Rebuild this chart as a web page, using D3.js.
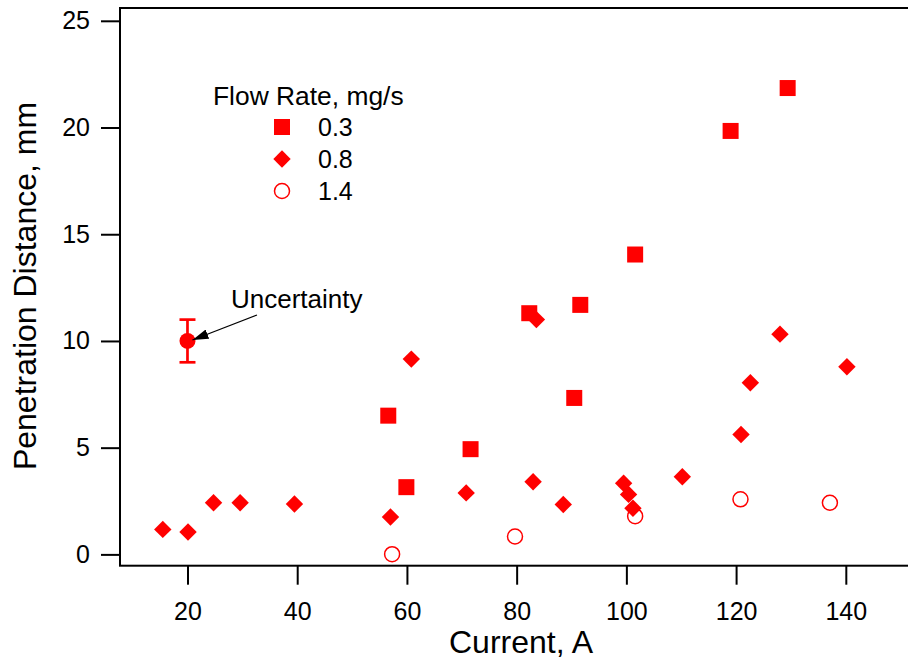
<!DOCTYPE html>
<html>
<head>
<meta charset="utf-8">
<script src="https://cdn.jsdelivr.net/npm/d3@7"></script>
<style>
  body { margin: 0; background: #fff; }
  text { font-family: "Liberation Sans", Arial, Helvetica, sans-serif; fill: #000; }
</style>
</head>
<body>
<svg id="chart" width="908" height="663"></svg>
<script>
// flow rate 0.3 mg/s
var current03 = [56.6, 59.9, 71.6, 82.3, 90.5, 91.6, 101.6, 119.0, 129.4];
var depth03   = [6.5, 3.15, 4.93, 11.3, 7.33, 11.69, 14.05, 19.84, 21.85];
// flow rate 0.8 mg/s
var current08 = [15.5, 20.1, 24.75, 29.6, 39.5, 57.0, 60.8, 70.8, 83.0, 83.6, 88.5, 99.5, 100.4, 101.2, 110.2, 120.9, 122.6, 128.0, 140.2];
var depth08   = [1.17, 1.05, 2.42, 2.42, 2.36, 1.75, 9.15, 2.88, 3.4, 11.0, 2.34, 3.33, 2.81, 2.16, 3.64, 5.62, 8.04, 10.32, 8.79];
// flow rate 1.4 mg/s
var current14 = [57.3, 79.7, 101.6, 120.8, 137.1];
var depth14   = [0.01, 0.84, 1.79, 2.58, 2.42];
// uncertainty sample point
var uncPoint = [20, 10];
var uncRange = [9, 11];

var xTicks = [20, 40, 60, 80, 100, 120, 140];
var yTicks = [0, 5, 10, 15, 20, 25];
var legendLabels = ["0.3", "0.8", "1.4"];

var svg = d3.select("#chart");
var red = "#ff0000";

var x = d3.scaleLinear().domain([7.7, 151.7]).range([120, 910]);
var y = d3.scaleLinear().domain([-0.53, 25.6]).range([565.7, 8]);

// frame
svg.append("rect")
    .attr("x", x.range()[0]).attr("y", y.range()[1])
    .attr("width", x.range()[1] - x.range()[0])
    .attr("height", y.range()[0] - y.range()[1])
    .attr("fill", "none").attr("stroke", "#000").attr("stroke-width", 2);

var xAxis = svg.append("g")
    .attr("transform", "translate(0," + y.range()[0] + ")")
    .call(d3.axisBottom(x).tickValues(xTicks).tickSize(19).tickPadding(18).tickSizeOuter(0));
var yAxis = svg.append("g")
    .attr("transform", "translate(" + x.range()[0] + ",0)")
    .call(d3.axisLeft(y).tickValues(yTicks).tickSize(19).tickPadding(11).tickSizeOuter(0));

[xAxis, yAxis].forEach(function(a){
    a.select(".domain").remove();
    a.selectAll(".tick line").attr("stroke", "#000").attr("stroke-width", 2);
    a.selectAll(".tick text").style("font-size", "25px").attr("fill", "#000");
});

// axis titles
svg.append("text")
    .attr("x", 521).attr("y", 653)
    .attr("text-anchor", "middle")
    .style("font-size", "32px")
    .text("Current, A");
svg.append("text")
    .attr("transform", "translate(36,286) rotate(-90)")
    .attr("text-anchor", "middle")
    .style("font-size", "32px")
    .text("Penetration Distance, mm");

var sq = 16, dia = 8.7, rad = 7.5;

function square(g){ g.attr("width", sq).attr("height", sq).attr("fill", red); }
function diamond(cx, cy){
    return [[cx, cy - dia], [cx + dia, cy], [cx, cy + dia], [cx - dia, cy]].map(function(p){ return p.join(","); }).join(" ");
}

// 1.4 circles
svg.append("g").selectAll("circle")
    .data(d3.zip(current14, depth14))
    .join("circle")
    .attr("cx", d => x(d[0])).attr("cy", d => y(d[1])).attr("r", rad)
    .attr("fill", "none").attr("stroke", red).attr("stroke-width", 1.5);

// 0.8 diamonds
svg.append("g").selectAll("polygon")
    .data(d3.zip(current08, depth08))
    .join("polygon")
    .attr("points", d => diamond(x(d[0]), y(d[1])))
    .attr("fill", red);

// 0.3 squares
svg.append("g").selectAll("rect")
    .data(d3.zip(current03, depth03))
    .join("rect")
    .attr("x", d => x(d[0]) - sq / 2).attr("y", d => y(d[1]) - sq / 2)
    .call(square);

// uncertainty marker
var ux = x(uncPoint[0]);
var eb = svg.append("g").attr("stroke", red).attr("stroke-width", 2.7);
eb.append("line").attr("x1", ux).attr("x2", ux).attr("y1", y(uncRange[0])).attr("y2", y(uncRange[1]));
eb.append("line").attr("x1", ux - 8).attr("x2", ux + 8).attr("y1", y(uncRange[0])).attr("y2", y(uncRange[0]));
eb.append("line").attr("x1", ux - 8).attr("x2", ux + 8).attr("y1", y(uncRange[1])).attr("y2", y(uncRange[1]));
svg.append("circle").attr("cx", ux).attr("cy", y(uncPoint[1])).attr("r", 8).attr("fill", red);

// annotation arrow
svg.append("defs").append("marker")
    .attr("id", "arrow").attr("viewBox", "0 0 16 10")
    .attr("refX", 16).attr("refY", 5)
    .attr("markerWidth", 16).attr("markerHeight", 10)
    .attr("markerUnits", "userSpaceOnUse")
    .attr("orient", "auto")
    .append("path").attr("d", "M0,0 L16,5 L0,10 Z").attr("fill", "#000");
svg.append("line")
    .attr("x1", 257).attr("y1", 315)
    .attr("x2", ux + 5).attr("y2", y(uncPoint[1]) - 1)
    .attr("stroke", "#000").attr("stroke-width", 1.2)
    .attr("marker-end", "url(#arrow)");
svg.append("text")
    .attr("x", 231).attr("y", 308)
    .style("font-size", "26px")
    .text("Uncertainty");

// legend
var leg = svg.append("g");
leg.append("text").attr("x", 213).attr("y", 105).style("font-size", "26.4px").text("Flow Rate, mg/s");
var rowY = [127, 159, 191];
leg.append("rect").attr("x", 282 - sq / 2).attr("y", rowY[0] - sq / 2).call(square);
leg.append("polygon").attr("points", diamond(282, rowY[1])).attr("fill", red);
leg.append("circle").attr("cx", 282).attr("cy", rowY[2]).attr("r", rad)
    .attr("fill", "none").attr("stroke", red).attr("stroke-width", 1.5);
leg.selectAll("text.lab")
    .data(legendLabels)
    .join("text").attr("class", "lab")
    .attr("x", 318).attr("y", (d, i) => rowY[i] + 9)
    .style("font-size", "25px")
    .text(d => d);
</script>
</body>
</html>
